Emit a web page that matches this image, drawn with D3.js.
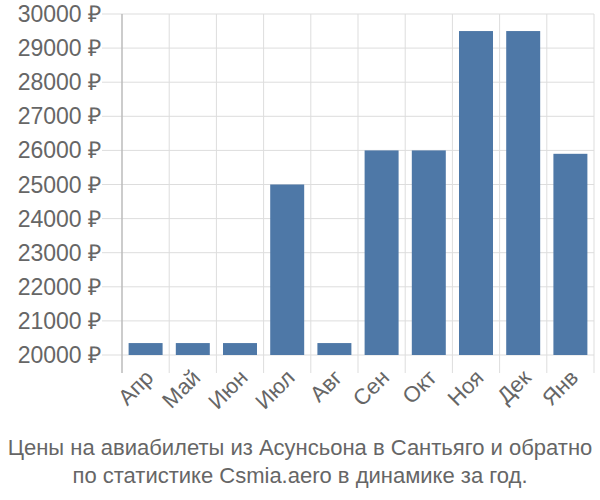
<!DOCTYPE html>
<html>
<head>
<meta charset="utf-8">
<script src="https://cdn.jsdelivr.net/npm/d3@7"></script>
<style>
  body { margin: 0; background: #fff; }
  svg { display: block; font-family: 'Liberation Sans', Arial, sans-serif; }
  .grid line { stroke: #dddddd; stroke-width: 1; }
  .lbl { fill: #666; font-size: 22px; }
  .ylbl { font-size: 23px; }
</style>
</head>
<body>
<svg id="chart" width="600" height="500"></svg>
<script>
// months, prices (rub)
const months = ["Апр", "Май", "Июн", "Июл", "Авг", "Сен", "Окт", "Ноя", "Дек", "Янв"];
const prices = [20350, 20350, 20350, 25000, 20350, 26000, 26000, 29500, 29500, 25900];
const yTicks = [20000, 21000, 22000, 23000, 24000, 25000, 26000, 27000, 28000, 29000, 30000];
const titleLines = [
  "Цены на авиабилеты из Асунсьона в Сантьяго и обратно",
  "по статистике Csmia.aero в динамике за год."
];

const svg = d3.select("#chart");
const plotL = 122, plotR = 594, plotT = 14, plotB = 355;

const x = d3.scaleBand().domain(months).range([plotL, plotR]).paddingInner(0.28).paddingOuter(0.14);
const xGrid = d3.scaleBand().domain(months).range([plotL, plotR]);
const y = d3.scaleLinear().domain([20000, 30000]).range([plotB, plotT]);

const grid = svg.append("g").attr("class", "grid");

// horizontal grid + tick stubs
grid.selectAll(".h").data(yTicks).join("line")
  .attr("x1", plotL - 20).attr("x2", plotR)
  .attr("y1", d => y(d)).attr("y2", d => y(d));

// vertical grid lines (band edges), extend below baseline
const edges = months.map(m => xGrid(m)).concat([plotR]);
grid.selectAll(".v").data(edges).join("line")
  .attr("x1", d => d).attr("x2", d => d)
  .attr("y1", plotT).attr("y2", plotB + 18);

// bars
svg.append("g").selectAll("rect").data(prices).join("rect")
  .attr("x", (d, i) => x(months[i]))
  .attr("width", x.bandwidth())
  .attr("y", d => y(d))
  .attr("height", d => y(20000) - y(d))
  .attr("fill", "#4e78a7");

// y axis line
svg.append("line")
  .attr("x1", plotL).attr("x2", plotL)
  .attr("y1", plotT).attr("y2", plotB + 18)
  .attr("stroke", "#aaa");

// y labels
svg.append("g").selectAll("text").data(yTicks).join("text")
  .attr("class", "lbl ylbl")
  .attr("x", plotL - 21)
  .attr("y", d => y(d))
  .attr("dy", "0.35em")
  .attr("text-anchor", "end")
  .text(d => d + " ₽");

// x labels, rotated
svg.append("g").selectAll("text").data(months).join("text")
  .attr("class", "lbl")
  .attr("text-anchor", "end")
  .attr("transform", d => `translate(${xGrid(d) + xGrid.bandwidth() / 2 + 9},${plotB + 24}) rotate(-45)`)
  .text(d => d);

// title
svg.append("g").selectAll("text").data(titleLines).join("text")
  .attr("class", "lbl")
  .attr("x", 300)
  .attr("y", (d, i) => 455 + i * 28)
  .attr("text-anchor", "middle")
  .text(d => d);
</script>
</body>
</html>
